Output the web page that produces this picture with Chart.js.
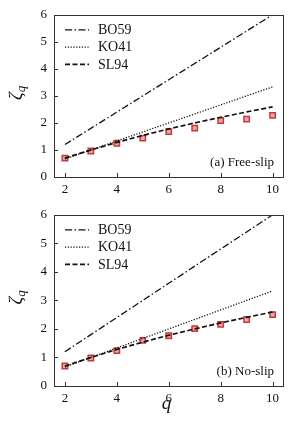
<!DOCTYPE html>
<html>
<head>
<meta charset="utf-8">
<script src="https://cdn.jsdelivr.net/npm/chart.js@4.4.1/dist/chart.umd.min.js"></script>
<style>
  html, body { margin: 0; padding: 0; background: #fff; }
  #wrap { position: relative; width: 302px; height: 422px; overflow: hidden; }
  canvas { position: absolute; left: 0; }
  #chart-top { top: 0; }
  #chart-bottom { top: 200px; }
</style>
</head>
<body>
<div id="wrap">
  <canvas id="chart-top" width="302" height="200"></canvas>
  <canvas id="chart-bottom" width="302" height="222"></canvas>
</div>
<script>
// scaling exponents zeta_q vs order q
const qValues = [2, 3, 4, 5, 6, 7, 8, 9, 10];
const bo59 = [1.2, 1.8, 2.4, 3.0, 3.6, 4.2, 4.8, 5.4, 6.0];
const ko41 = [0.667, 1.0, 1.333, 1.667, 2.0, 2.333, 2.667, 3.0, 3.333];
const sl94 = [0.696, 1.0, 1.280, 1.538, 1.778, 2.001, 2.210, 2.407, 2.594];
const freeSlip = [0.70, 0.96, 1.25, 1.44, 1.68, 1.81, 2.09, 2.14, 2.28];
const noSlip = [0.70, 0.98, 1.24, 1.60, 1.76, 2.01, 2.16, 2.33, 2.50];

const xTicks = [2, 4, 6, 8, 10];
const yTicks = [0, 1, 2, 3, 4, 5, 6];

const SERIF = '"Liberation Serif", "DejaVu Serif", serif';
const INK = '#111';

function pts(arr) {
  return qValues.map((q, i) => ({ x: q, y: arr[i] }));
}

function lineSet(label, arr, dash, width) {
  return {
    label: label,
    data: pts(arr),
    showLine: true,
    borderColor: INK,
    borderWidth: width,
    borderDash: dash,
    pointRadius: 0,
    isModel: true
  };
}

const framePlugin = {
  id: 'frame',
  afterDraw(chart, args, opts) {
    const { ctx, chartArea: a, scales } = chart;
    ctx.save();
    ctx.strokeStyle = '#333';
    ctx.lineWidth = 1;
    ctx.setLineDash([]);
    ctx.strokeRect(Math.round(a.left) + 0.5, Math.round(a.top) + 0.5,
      Math.round(a.right - a.left), Math.round(a.bottom - a.top));

    // inward ticks
    ctx.beginPath();
    xTicks.forEach(v => {
      const px = Math.round(scales.x.getPixelForValue(v)) + 0.5;
      ctx.moveTo(px, a.bottom);
      ctx.lineTo(px, a.bottom - 4);
    });
    yTicks.forEach(v => {
      const py = Math.round(scales.y.getPixelForValue(v)) + 0.5;
      ctx.moveTo(a.left, py);
      ctx.lineTo(a.left + 4, py);
    });
    ctx.stroke();

    // legend
    const models = chart.data.datasets.filter(d => d.isModel);
    models.forEach((d, i) => {
      const y = a.top + 15 + i * 17.3;
      ctx.strokeStyle = d.borderColor;
      ctx.lineWidth = d.borderWidth;
      ctx.setLineDash(d.borderDash);
      ctx.beginPath();
      ctx.moveTo(a.left + 11, y);
      ctx.lineTo(a.left + 35, y);
      ctx.stroke();
      ctx.setLineDash([]);
      ctx.fillStyle = INK;
      ctx.font = '14px ' + SERIF;
      ctx.textBaseline = 'middle';
      ctx.textAlign = 'left';
      ctx.fillText(d.label, a.left + 44, y + 0.5);
    });

    // panel label
    ctx.font = '13px ' + SERIF;
    ctx.textAlign = 'right';
    ctx.textBaseline = 'middle';
    ctx.fillText(opts.panel, a.right - 9, a.bottom - 14);

    // y title: zeta_q, rotated
    ctx.save();
    ctx.translate(17, (a.top + a.bottom) / 2 - 3);
    ctx.rotate(-Math.PI / 2);
    ctx.textAlign = 'left';
    ctx.textBaseline = 'middle';
    ctx.font = 'italic 19px ' + SERIF;
    const w = ctx.measureText('\u03B6').width;
    ctx.font = 'italic 13px ' + SERIF;
    const ws = ctx.measureText('q').width;
    const x0 = -(w + ws) / 2;
    ctx.font = 'italic 19px ' + SERIF;
    ctx.fillText('\u03B6', x0, 0);
    ctx.font = 'italic 13px ' + SERIF;
    ctx.fillText('q', x0 + w, 5);
    ctx.restore();

    // x title
    if (opts.xTitle) {
      ctx.font = 'italic 19px ' + SERIF;
      ctx.textAlign = 'center';
      ctx.textBaseline = 'middle';
      ctx.fillText(opts.xTitle, (a.left + a.right) / 2 - 2, 204);
    }
    ctx.restore();
  }
};

function makeChart(canvasId, dns, panel, topPad, xHeight, xTitle) {
  return new Chart(document.getElementById(canvasId), {
    type: 'scatter',
    data: {
      datasets: [
        lineSet('BO59', bo59, [7, 2.5, 1.5, 2.5], 1.3),
        lineSet('KO41', ko41, [1.2, 1.6], 1.3),
        lineSet('SL94', sl94, [5, 2.5], 1.7),
        {
          label: 'DNS',
          data: pts(dns),
          showLine: false,
          pointStyle: 'rect',
          pointRadius: 3.8,
          pointBorderWidth: 1.5,
          pointBorderColor: '#c43a3a',
          pointBackgroundColor: '#eaa6a6'
        }
      ]
    },
    options: {
      responsive: false,
      animation: false,
      events: [],
      layout: { padding: { top: topPad, right: 19, left: 0, bottom: 0 } },
      plugins: {
        legend: { display: false },
        tooltip: { enabled: false },
        frame: { panel: panel, xTitle: xTitle }
      },
      scales: {
        x: {
          type: 'linear',
          min: 1.58,
          max: 10.4,
          grid: { display: false, drawTicks: false },
          border: { display: false },
          ticks: { color: INK, font: { family: SERIF, size: 13 }, padding: 5 },
          afterBuildTicks: s => { s.ticks = xTicks.map(v => ({ value: v })); },
          afterFit: s => { s.height = xHeight; }
        },
        y: {
          min: 0,
          max: 6,
          grid: { display: false, drawTicks: false },
          border: { display: false },
          ticks: { color: INK, font: { family: SERIF, size: 13 }, padding: 7 },
          afterBuildTicks: s => { s.ticks = yTicks.map(v => ({ value: v })); },
          afterFit: s => { s.width = 54; }
        }
      }
    },
    plugins: [framePlugin]
  });
}

makeChart('chart-top', freeSlip, '(a) Free-slip', 6.7, 23, null);
makeChart('chart-bottom', noSlip, '(b) No-slip', 14, 36, 'q');
</script>
</body>
</html>
